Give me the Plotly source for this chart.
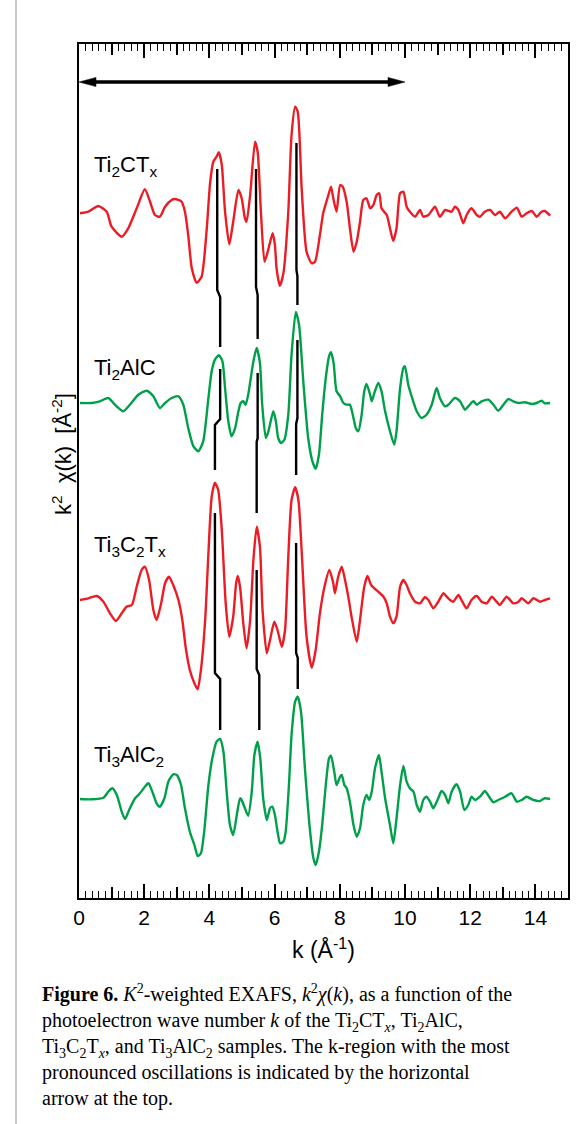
import plotly.graph_objects as go

# ---------------------------------------------------------------- data
# k (1/Angstrom) and k^2 chi(k) (arb. units) for each sample
k_ti2ctx = [0.03, 0.29, 0.59, 0.85, 1.00, 1.31, 1.51, 1.77, 2.02, 2.18, 2.33, 2.48, 2.64, 2.84, 2.94, 3.15,
            3.25, 3.35, 3.46, 3.61, 3.76, 3.92, 4.02, 4.12, 4.22, 4.29, 4.38, 4.48, 4.61, 4.73, 4.89, 4.99,
            5.09, 5.14, 5.25, 5.40, 5.48, 5.58, 5.69, 5.79, 5.94, 6.01, 6.06, 6.16, 6.27, 6.42, 6.52, 6.63,
            6.71, 6.83, 6.98, 7.14, 7.24, 7.39, 7.49, 7.65, 7.73, 7.80, 7.90, 8.01, 8.09, 8.21, 8.31, 8.42,
            8.52, 8.62, 8.72, 8.82, 8.93, 9.03, 9.13, 9.21, 9.28, 9.44, 9.54, 9.64, 9.74, 9.85, 9.95, 10.05,
            10.15, 10.31, 10.46, 10.56, 10.72, 10.92, 11.07, 11.23, 11.43, 11.53, 11.64, 11.79, 11.89, 12.04,
            12.20, 12.30, 12.45, 12.61, 12.76, 12.91, 13.07, 13.27, 13.43, 13.58, 13.73, 13.89, 14.04, 14.19,
            14.29, 14.45]
chi_ti2ctx = [-0.03, 0.13, 0.70, 0.13, -1.37, -2.37, -1.53, 0.47, 2.37, 1.13, -0.20, -0.37, 0.63, 1.30, 1.40,
              1.13, 0.13, -2.20, -5.53, -6.97, -6.37, -1.53, 2.97, 5.13, 5.63, 6.07, 4.80, 0.13, -3.13, -0.87,
              2.30, 1.47, -0.53, -0.87, 1.80, 7.13, 6.13, 0.13, -4.87, -3.87, -2.03, -3.20, -5.53, -7.27, -6.03,
              0.13, 7.80, 10.63, 10.13, 2.47, -3.87, -5.03, -4.87, -2.20, -0.03, 1.80, 2.63, 1.47, 0.13, 2.80,
              2.63, 1.13, -1.53, -3.87, -2.87, -0.87, 1.30, 1.47, 0.47, 0.80, 1.80, 1.97, 0.47, -0.20, -1.53,
              -2.80, -1.53, 1.97, 2.13, 0.63, 0.13, -0.37, 0.30, -0.37, -0.20, 0.63, -0.37, 0.30, 0.13, 0.63,
              0.30, -1.03, -0.20, 0.47, -0.20, -0.37, 0.13, 0.30, -0.20, 0.13, -0.53, 0.13, 0.53, -0.37, -0.03,
              0.20, -0.37, 0.13, 0.20, -0.27]

k_ti2alc = [0.03, 0.39, 0.64, 0.90, 1.10, 1.36, 1.56, 1.82, 2.08, 2.28, 2.48, 2.64, 2.84, 3.05, 3.20, 3.35,
            3.51, 3.66, 3.81, 3.97, 4.07, 4.17, 4.29, 4.40, 4.48, 4.58, 4.68, 4.79, 4.89, 4.96, 5.04, 5.11,
            5.19, 5.35, 5.45, 5.55, 5.62, 5.73, 5.81, 5.96, 6.04, 6.11, 6.20, 6.30, 6.42, 6.52, 6.65, 6.75,
            6.88, 7.03, 7.16, 7.26, 7.36, 7.46, 7.57, 7.67, 7.73, 7.81, 7.90, 8.01, 8.11, 8.21, 8.31, 8.42,
            8.49, 8.57, 8.67, 8.75, 8.82, 8.93, 8.98, 9.06, 9.18, 9.28, 9.39, 9.54, 9.67, 9.74, 9.85, 9.95,
            10.00, 10.10, 10.22, 10.36, 10.51, 10.66, 10.82, 10.97, 11.07, 11.23, 11.33, 11.53, 11.69, 11.84,
            11.94, 12.10, 12.20, 12.35, 12.56, 12.71, 12.86, 13.02, 13.17, 13.32, 13.48, 13.68, 13.89, 14.04,
            14.19, 14.29, 14.45]
chi_ti2alc = [0.00, 0.00, 0.17, 0.50, -0.17, -0.83, -0.17, 0.83, 1.23, 0.67, -0.50, 0.00, 0.50, 0.67, -0.17,
              -2.50, -4.33, -4.83, -3.83, 0.50, 3.17, 4.33, 4.77, 4.17, 1.50, -1.83, -3.33, -2.50, -0.83, 0.00,
              0.17, -0.17, 0.83, 4.17, 5.50, 4.00, -0.17, -3.50, -2.83, -0.83, -1.83, -3.50, -4.00, -3.67, -1.17,
              4.83, 9.10, 7.83, 2.17, -3.50, -5.83, -6.57, -5.17, -1.17, 2.50, 4.67, 5.07, 4.00, 1.17, 0.67,
              0.00, -0.17, -0.17, -1.50, -2.50, -2.83, -1.17, 1.17, 1.90, 0.83, 0.17, 1.00, 2.00, 1.17, -0.83,
              -2.83, -4.17, -2.83, 1.50, 3.50, 3.67, 1.83, 0.50, -0.83, -1.50, -1.17, -0.17, 1.50, 0.50, -0.33,
              -0.17, 0.50, 0.17, -0.67, -0.33, 0.17, -0.17, 0.17, 0.33, -0.17, -0.77, -0.17, 0.40, 0.17, 0.00,
              0.07, -0.10, 0.00, 0.23, -0.03, 0.00]

k_ti3c2tx = [0.03, 0.29, 0.54, 0.75, 0.95, 1.13, 1.31, 1.46, 1.62, 1.77, 1.92, 2.02, 2.15, 2.28, 2.38, 2.52,
             2.64, 2.76, 2.89, 3.05, 3.17, 3.27, 3.40, 3.54, 3.64, 3.74, 3.87, 3.97, 4.07, 4.17, 4.27, 4.38,
             4.50, 4.61, 4.73, 4.82, 4.87, 4.94, 5.04, 5.14, 5.25, 5.35, 5.45, 5.55, 5.63, 5.76, 5.86, 5.99,
             6.09, 6.22, 6.32, 6.42, 6.52, 6.63, 6.73, 6.85, 6.98, 7.14, 7.26, 7.39, 7.53, 7.68, 7.80, 7.85,
             7.95, 8.06, 8.16, 8.26, 8.36, 8.52, 8.62, 8.75, 8.85, 8.96, 9.06, 9.18, 9.34, 9.44, 9.54, 9.64,
             9.74, 9.85, 9.95, 10.05, 10.15, 10.31, 10.46, 10.61, 10.72, 10.87, 11.02, 11.18, 11.28, 11.38,
             11.48, 11.64, 11.76, 11.89, 12.04, 12.20, 12.35, 12.51, 12.66, 12.81, 12.91, 13.12, 13.32, 13.48,
             13.58, 13.78, 13.94, 14.14, 14.29, 14.45]
chi_ti3c2tx = [0.00, 0.17, 0.40, -0.17, -1.33, -2.10, -1.33, -0.67, -0.50, 1.33, 3.00, 3.33, 2.00, -1.00,
               -2.00, -0.33, 1.67, 2.33, 1.50, 0.00, -2.00, -4.67, -7.00, -8.33, -8.93, -7.00, -2.00, 4.67,
               10.33, 11.73, 11.00, 7.00, -0.33, -3.67, -1.67, 1.67, 2.40, 1.33, -2.33, -4.83, -2.00, 4.00,
               7.33, 5.33, -1.00, -5.33, -4.00, -2.17, -3.00, -4.67, -3.00, 4.33, 10.00, 11.27, 10.00, 3.67,
               -3.67, -6.77, -5.00, -1.33, 1.33, 3.00, 1.67, 0.67, 2.33, 3.33, 2.00, 0.33, -1.67, -4.17, -2.00,
               1.33, 2.40, 1.50, 1.17, 0.83, 0.33, -0.33, -1.67, -2.33, -1.67, 1.33, 2.00, 1.50, 0.67, -0.17,
               -0.33, 0.27, 0.00, -0.83, -0.17, 0.67, 0.33, 0.00, -0.17, 0.50, -0.17, -0.83, 0.00, 0.40, -0.17,
               -0.33, 0.33, -0.17, -0.50, 0.33, -0.33, -0.17, 0.17, -0.33, 0.17, -0.17, 0.00, 0.17]

k_ti3alc2 = [0.03, 0.39, 0.75, 0.90, 1.02, 1.16, 1.31, 1.41, 1.56, 1.72, 1.87, 2.02, 2.13, 2.25, 2.38, 2.48,
             2.62, 2.74, 2.89, 3.00, 3.13, 3.25, 3.40, 3.54, 3.64, 3.74, 3.84, 3.97, 4.09, 4.22, 4.33, 4.43,
             4.53, 4.63, 4.73, 4.84, 4.94, 4.99, 5.09, 5.19, 5.30, 5.38, 5.48, 5.56, 5.65, 5.76, 5.86, 5.93,
             6.01, 6.09, 6.17, 6.27, 6.34, 6.44, 6.52, 6.63, 6.71, 6.81, 6.93, 7.09, 7.19, 7.26, 7.36, 7.46,
             7.57, 7.67, 7.73, 7.83, 7.90, 8.01, 8.06, 8.14, 8.21, 8.31, 8.42, 8.52, 8.62, 8.72, 8.82, 8.90,
             8.98, 9.08, 9.20, 9.28, 9.39, 9.54, 9.64, 9.74, 9.85, 9.95, 10.05, 10.15, 10.26, 10.36, 10.46,
             10.56, 10.66, 10.77, 10.87, 11.02, 11.12, 11.23, 11.33, 11.43, 11.58, 11.69, 11.82, 11.94, 12.04,
             12.15, 12.30, 12.45, 12.61, 12.71, 12.86, 13.07, 13.27, 13.43, 13.58, 13.73, 13.94, 14.14, 14.29,
             14.45]
chi_ti3alc2 = [0.00, -0.03, 0.13, 0.73, 1.07, 0.40, -1.27, -2.00, -0.93, 0.07, 0.57, 1.23, 1.57, 0.73, -0.43,
               -0.77, 0.07, 1.73, 2.47, 2.40, 1.40, -0.93, -3.27, -4.60, -5.70, -5.43, -3.27, 1.40, 4.07, 5.73,
               6.00, 4.73, 0.73, -2.60, -3.60, -1.60, 0.07, -0.10, -0.93, -1.67, 0.73, 4.40, 5.73, 4.07, 0.07,
               -2.10, -0.93, -0.77, -1.60, -3.27, -4.43, -4.27, -3.27, 1.40, 6.40, 9.73, 10.23, 8.73, 3.07,
               -3.27, -5.93, -6.60, -5.27, -2.60, 1.40, 4.07, 4.33, 2.73, 1.40, 2.23, 2.40, 1.40, 1.07, -0.27,
               -2.60, -3.77, -2.93, -0.60, 0.40, -0.10, 0.73, 3.07, 4.40, 2.73, 0.07, -2.60, -4.43, -1.93, 1.40,
               3.30, 1.73, 1.07, 0.73, -0.60, -1.27, -0.10, 0.23, -0.27, -0.93, 0.07, 0.80, 0.40, -0.43, 0.73,
               1.47, 0.73, -1.10, -0.60, 0.23, -0.10, 0.23, 0.80, 0.07, -0.33, -0.10, 0.23, 0.57, -0.27, -0.10,
               0.23, -0.10, -0.20, 0.07, 0.00]

sample_names = ["Ti<sub>2</sub>CT<sub>x</sub>", "Ti<sub>2</sub>AlC",
                "Ti<sub>3</sub>C<sub>2</sub>T<sub>x</sub>", "Ti<sub>3</sub>AlC<sub>2</sub>"]
vertical_offsets = [58.6, 39.6, 19.9, 0.0]
label_levels = [63.3, 43.0, 25.3, 4.3]

# peak-tracking guides between neighbouring spectra (k, stacked y)
guide_k = [[4.24, 4.24, 4.33, 4.33], [5.43, 5.43, 5.48, 5.48], [6.67, 6.67, 6.70, 6.70],
           [4.33, 4.33, 4.17, 4.17], [5.48, 5.48, 5.45, 5.45], [6.70, 6.70, 6.66, 6.66],
           [4.17, 4.17, 4.33, 4.33], [5.45, 5.45, 5.53, 5.53], [6.66, 6.66, 6.71, 6.71]]
guide_y = [[63.0, 50.9, 50.2, 45.2], [63.0, 51.2, 50.4, 46.0], [65.6, 52.9, 52.3, 49.4],
           [43.0, 38.0, 37.4, 32.9], [42.6, 36.1, 35.7, 28.6], [45.9, 38.1, 37.5, 32.4],
           [28.6, 12.6, 12.0, 6.9], [22.9, 13.0, 12.4, 6.9], [25.6, 14.6, 14.1, 11.0]]

# k-window with the strongest oscillations
k_window = [0.0, 10.0]
window_level = 71.7

x_major = [0, 2, 4, 6, 8, 10, 12, 14]
x_mid = [1, 3, 5, 7, 9, 11, 13]

caption_lines = [
    "<b>Figure 6.</b> <i>K</i><sup>2</sup>-weighted EXAFS, <i>k</i><sup>2</sup><i>χ</i>(<i>k</i>), as a function of the",
    "photoelectron wave number <i>k</i> of the Ti<sub>2</sub>CT<sub><i>x</i></sub>, Ti<sub>2</sub>AlC,",
    "Ti<sub>3</sub>C<sub>2</sub>T<sub><i>x</i></sub>, and Ti<sub>3</sub>AlC<sub>2</sub> samples. The k-region with the most",
    "pronounced oscillations is indicated by the horizontal",
    "arrow at the top.",
]

# ---------------------------------------------------------------- style
RED = "#ec1c24"
GREEN = "#00a04a"
SANS = "Liberation Sans, Arial, sans-serif"
SERIF = "Liberation Serif, Times New Roman, serif"
X_RANGE = [0, 15]
Y_RANGE = [-9.9, 75.5]
NB = "\u00a0"

spectra = [(k_ti2ctx, chi_ti2ctx, RED), (k_ti2alc, chi_ti2alc, GREEN),
           (k_ti3c2tx, chi_ti3c2tx, RED), (k_ti3alc2, chi_ti3alc2, GREEN)]

fig = go.Figure()

for (k, chi, color), off in zip(spectra, vertical_offsets):
    fig.add_trace(go.Scatter(
        x=k, y=[v + off for v in chi], mode="lines",
        line=dict(color=color, width=2.4, shape="spline", smoothing=0.6),
        hoverinfo="skip", showlegend=False))

gx, gy = [], []
for ks, ys in zip(guide_k, guide_y):
    gx += ks + [None]
    gy += ys + [None]
fig.add_trace(go.Scatter(x=gx, y=gy, mode="lines", xaxis="x2",
                         line=dict(color="black", width=2.4),
                         hoverinfo="skip", showlegend=False))

# double-headed arrow over the k-window
px_per_k = (584 - 79 - 16) / (X_RANGE[1] - X_RANGE[0])
px_per_y = (1124 - 44 - 226) / (Y_RANGE[1] - Y_RANGE[0])
head_len = 17 / px_per_k
head_half = 4.6 / px_per_y
k0, k1 = k_window
fig.add_shape(type="line", x0=k0 + head_len * 0.8, x1=k1 - head_len * 0.8,
              y0=window_level, y1=window_level, line=dict(color="black", width=3.5))
for tip, back in ((k0, k0 + head_len), (k1, k1 - head_len)):
    fig.add_shape(type="path",
                  path=f"M {tip},{window_level} L {back},{window_level + head_half} "
                       f"L {back},{window_level - head_half} Z",
                  fillcolor="black", line=dict(color="black", width=0.5))

for name, lvl in zip(sample_names, label_levels):
    fig.add_annotation(x=0.40, y=lvl, xref="x", yref="y", text=name, showarrow=False,
                       xanchor="left", yanchor="middle", font=dict(family=SANS, size=22, color="black"))

fig.add_annotation(x=-0.0348, y=0.52, xref="paper", yref="paper", textangle=-90,
                   text=f"k<sup>2</sup>{NB} χ(k){NB} [Å<sup>-2</sup>]", showarrow=False,
                   xanchor="center", yanchor="middle", font=dict(family=SANS, size=22, color="black"))

# figure caption below the chart, one text block
fig.add_annotation(x=(40 - 79) / 489, y=(898 - 979) / 854, xref="paper", yref="paper",
                   text="<br>".join(caption_lines), showarrow=False, align="left",
                   xanchor="left", yanchor="top", font=dict(family=SERIF, size=20, color="black"))

# thin page frame on the left
fig.add_shape(type="line", xref="paper", yref="paper", x0=(16 - 79) / 489, x1=(16 - 79) / 489,
              y0=(898 - 1124) / 854, y1=(898 - 0) / 854, line=dict(color="#a0a0a0", width=1.2))

axis_common = dict(range=X_RANGE, showgrid=False, zeroline=False)
fig.update_layout(
    width=584, height=1124,
    margin=dict(l=79, r=16, t=44, b=226),
    paper_bgcolor="white", plot_bgcolor="white",
    xaxis=dict(**axis_common, showline=True, linecolor="black", linewidth=2, mirror="ticks",
               ticks="inside", tickvals=x_major, ticklen=14, tickwidth=1.5, tickcolor="black",
               minor=dict(dtick=0.2, ticks="inside", ticklen=7, tickwidth=1.3, tickcolor="black"),
               tickfont=dict(family=SANS, size=21, color="black"),
               title=dict(text="k (Å<sup>-1</sup>)", font=dict(family=SANS, size=23, color="black"),
                          standoff=14)),
    xaxis2=dict(**axis_common, overlaying="x", anchor="y", side="bottom", showline=True,
                linecolor="black", linewidth=2, mirror="ticks", ticks="inside", tickvals=x_mid,
                ticklen=11, tickwidth=1.5, tickcolor="black", showticklabels=False),
    yaxis=dict(range=Y_RANGE, showgrid=False, zeroline=False, showline=True, linecolor="black",
               linewidth=2, mirror=True, ticks="", showticklabels=False),
)

fig.write_html("out.html")
